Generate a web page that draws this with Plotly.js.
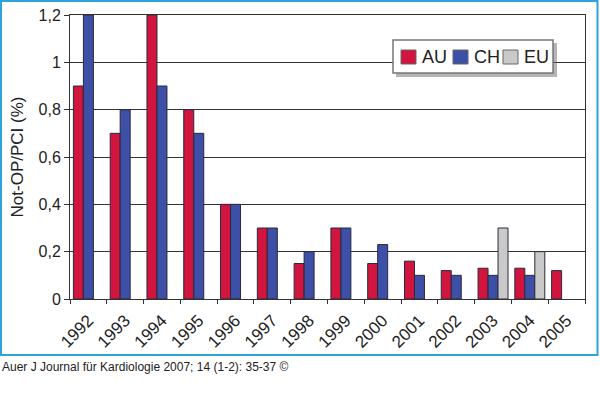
<!DOCTYPE html>
<html><head><meta charset="utf-8">
<script src="https://cdn.plot.ly/plotly-3.0.1.min.js"></script>
<style>html,body{margin:0;padding:0;background:#fff}</style>
</head><body>
<div id="chart" style="width:600px;height:417px"></div>
<script>
const years = ['1992','1993','1994','1995','1996','1997','1998','1999','2000','2001','2002','2003','2004','2005'];
const au = [0.9,0.7,1.2,0.8,0.4,0.3,0.15,0.3,0.15,0.16,0.12,0.13,0.13,0.12];
const ch = [1.2,0.8,0.9,0.7,0.4,0.3,0.2,0.3,0.23,0.1,0.1,0.1,0.1,null];
const eu = [null,null,null,null,null,null,null,null,null,null,null,0.3,0.2,null];
const seriesNames = ['AU','CH','EU'];
const seriesColors = ['#d2153e','#3d4fa6','#c9c9c9'];
const yTicks = [0,0.2,0.4,0.6,0.8,1,1.2];
const yTickText = ['0','0,2','0,4','0,6','0,8','1','1,2'];

const ML=70, MR=15, MT=15, MB=118, W=600, H=417;
const pw = W-ML-MR, ph = H-MT-MB;
const px = x => (x-ML)/pw;
const py = y => (H-MB-y)/ph;

const line = {color:'#2a2a3a', width:1};
const vals = [au, ch, eu];
const data = vals.map((v,i)=>({type:'bar', name:seriesNames[i], x:years, y:v,
  marker:{color:seriesColors[i], line:line}}));
const font = {family:'Liberation Sans, Arial, sans-serif', color:'#222'};

// custom legend (box + swatches + labels)
const legShapes = [
  {type:'rect', xref:'paper', yref:'paper', x0:px(396), x1:px(557), y0:py(77), y1:py(43),
   line:{width:0}, fillcolor:'rgba(90,90,90,0.45)', layer:'above'},
  {type:'rect', xref:'paper', yref:'paper', x0:px(393), x1:px(553), y0:py(73), y1:py(40),
   line:{color:'#777', width:1.5}, fillcolor:'#fff', layer:'above'}
];
const swX = [401, 453, 503];
const txX = [420, 472, 522];
const legAnn = [];
seriesNames.forEach((n,i)=>{
  legShapes.push({type:'rect', xref:'paper', yref:'paper', x0:px(swX[i]), x1:px(swX[i]+15),
    y0:py(64), y1:py(50), line:{color:'#666', width:1}, fillcolor:seriesColors[i], layer:'above'});
  legAnn.push({xref:'paper', yref:'paper', x:px(txX[i]), y:py(57), xanchor:'left', yanchor:'middle',
    showarrow:false, text:n, font:{size:18, color:'#222'}});
});

const layout = {
  width:W, height:H,
  margin:{l:ML, r:MR, t:MT, b:MB},
  paper_bgcolor:'#fff', plot_bgcolor:'#fff',
  font:font,
  barmode:'group', bargap:0.185, bargroupgap:0,
  showlegend:false,
  xaxis:{type:'category', tickangle:-45, tickfont:{size:17}, showline:true, linecolor:'#333',
    ticks:'outside', tickson:'boundaries', ticklen:4, tickcolor:'#333', showgrid:false, mirror:true,
    ticklabelstandoff:4},
  yaxis:{range:[0,1.2], tickvals:yTicks, ticktext:yTickText, tickfont:{size:16},
    showgrid:true, gridcolor:'#333', gridwidth:1, showline:true, linecolor:'#333', mirror:true,
    ticks:'outside', ticklen:5, tickcolor:'#333', zeroline:false,
    title:{text:'Not-OP/PCI (%)', font:{size:17}, standoff:10}},
  shapes:[
    {type:'rect', xref:'paper', yref:'paper', x0:px(1), x1:px(597.5), y0:py(355), y1:py(1),
     line:{color:'#2ba4dd', width:2}, fillcolor:'rgba(0,0,0,0)', layer:'below'}
  ].concat(legShapes),
  annotations:[
    {xref:'paper', yref:'paper', x:px(0), y:py(367), xanchor:'left', yanchor:'middle', showarrow:false,
     text:'Auer J Journal für Kardiologie 2007; 14 (1-2): 35-37 ©', font:{size:12, color:'#222'}}
  ].concat(legAnn)
};
Plotly.newPlot('chart', data, layout, {staticPlot:true});
</script>
</body></html>
